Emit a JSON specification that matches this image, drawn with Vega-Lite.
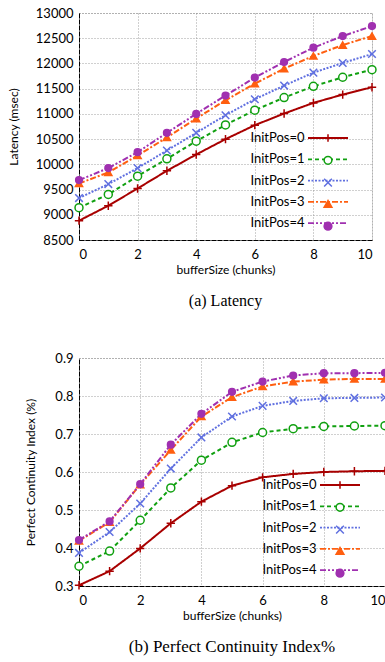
{
  "$schema": "https://vega.github.io/schema/vega-lite/v6.json",
  "padding": {"left": 6, "top": 6, "right": 0, "bottom": 0},
  "background": "white",
  "config": {
    "view": {"stroke": "#999", "strokeDash": [1, 2], "strokeWidth": 1},
    "axis": {
      "labelFont": "Lato", "labelFontSize": 13, "labelColor": "black",
      "titleFont": "Lato", "titleFontSize": 12, "titleFontWeight": "normal", "titleColor": "black",
      "domainColor": "black", "domainWidth": 1, "domainDash": [5, 1],
      "ticks": false, "labelPadding": 6,
      "grid": true, "gridColor": "#888", "gridDash": [1, 2], "gridWidth": 0.8
    },
    "legend": {"labelFont": "Lato", "labelFontSize": 13, "labelColor": "black"}
  },
  "datasets": {
    "lat": [
      {"x": 0, "s": "InitPos=0", "v": 8883}, {"x": 1, "s": "InitPos=0", "v": 9180}, {"x": 2, "s": "InitPos=0", "v": 9522}, {"x": 3, "s": "InitPos=0", "v": 9872}, {"x": 4, "s": "InitPos=0", "v": 10195}, {"x": 5, "s": "InitPos=0", "v": 10499}, {"x": 6, "s": "InitPos=0", "v": 10776}, {"x": 7, "s": "InitPos=0", "v": 11007}, {"x": 8, "s": "InitPos=0", "v": 11218}, {"x": 9, "s": "InitPos=0", "v": 11383}, {"x": 10, "s": "InitPos=0", "v": 11528},
      {"x": 0, "s": "InitPos=1", "v": 9140}, {"x": 1, "s": "InitPos=1", "v": 9404}, {"x": 2, "s": "InitPos=1", "v": 9766}, {"x": 3, "s": "InitPos=1", "v": 10109}, {"x": 4, "s": "InitPos=1", "v": 10459}, {"x": 5, "s": "InitPos=1", "v": 10782}, {"x": 6, "s": "InitPos=1", "v": 11073}, {"x": 7, "s": "InitPos=1", "v": 11323}, {"x": 8, "s": "InitPos=1", "v": 11547}, {"x": 9, "s": "InitPos=1", "v": 11726}, {"x": 10, "s": "InitPos=1", "v": 11877},
      {"x": 0, "s": "InitPos=2", "v": 9331}, {"x": 1, "s": "InitPos=2", "v": 9608}, {"x": 2, "s": "InitPos=2", "v": 9925}, {"x": 3, "s": "InitPos=2", "v": 10274}, {"x": 4, "s": "InitPos=2", "v": 10624}, {"x": 5, "s": "InitPos=2", "v": 10974}, {"x": 6, "s": "InitPos=2", "v": 11290}, {"x": 7, "s": "InitPos=2", "v": 11561}, {"x": 8, "s": "InitPos=2", "v": 11818}, {"x": 9, "s": "InitPos=2", "v": 12009}, {"x": 10, "s": "InitPos=2", "v": 12187},
      {"x": 0, "s": "InitPos=3", "v": 9621}, {"x": 1, "s": "InitPos=3", "v": 9839}, {"x": 2, "s": "InitPos=3", "v": 10175}, {"x": 3, "s": "InitPos=3", "v": 10532}, {"x": 4, "s": "InitPos=3", "v": 10908}, {"x": 5, "s": "InitPos=3", "v": 11270}, {"x": 6, "s": "InitPos=3", "v": 11600}, {"x": 7, "s": "InitPos=3", "v": 11897}, {"x": 8, "s": "InitPos=3", "v": 12148}, {"x": 9, "s": "InitPos=3", "v": 12365}, {"x": 10, "s": "InitPos=3", "v": 12543},
      {"x": 0, "s": "InitPos=4", "v": 9687}, {"x": 1, "s": "InitPos=4", "v": 9925}, {"x": 2, "s": "InitPos=4", "v": 10241}, {"x": 3, "s": "InitPos=4", "v": 10624}, {"x": 4, "s": "InitPos=4", "v": 11000}, {"x": 5, "s": "InitPos=4", "v": 11363}, {"x": 6, "s": "InitPos=4", "v": 11719}, {"x": 7, "s": "InitPos=4", "v": 12029}, {"x": 8, "s": "InitPos=4", "v": 12313}, {"x": 9, "s": "InitPos=4", "v": 12543}, {"x": 10, "s": "InitPos=4", "v": 12740}
    ],
    "pci": [
      {"x": 0, "s": "InitPos=0", "v": 0.302}, {"x": 1, "s": "InitPos=0", "v": 0.339}, {"x": 2, "s": "InitPos=0", "v": 0.399}, {"x": 3, "s": "InitPos=0", "v": 0.465}, {"x": 4, "s": "InitPos=0", "v": 0.522}, {"x": 5, "s": "InitPos=0", "v": 0.564}, {"x": 6, "s": "InitPos=0", "v": 0.586}, {"x": 7, "s": "InitPos=0", "v": 0.595}, {"x": 8, "s": "InitPos=0", "v": 0.6}, {"x": 9, "s": "InitPos=0", "v": 0.602}, {"x": 10, "s": "InitPos=0", "v": 0.603},
      {"x": 0, "s": "InitPos=1", "v": 0.352}, {"x": 1, "s": "InitPos=1", "v": 0.392}, {"x": 2, "s": "InitPos=1", "v": 0.473}, {"x": 3, "s": "InitPos=1", "v": 0.558}, {"x": 4, "s": "InitPos=1", "v": 0.631}, {"x": 5, "s": "InitPos=1", "v": 0.678}, {"x": 6, "s": "InitPos=1", "v": 0.704}, {"x": 7, "s": "InitPos=1", "v": 0.714}, {"x": 8, "s": "InitPos=1", "v": 0.72}, {"x": 9, "s": "InitPos=1", "v": 0.721}, {"x": 10, "s": "InitPos=1", "v": 0.722},
      {"x": 0, "s": "InitPos=2", "v": 0.387}, {"x": 1, "s": "InitPos=2", "v": 0.442}, {"x": 2, "s": "InitPos=2", "v": 0.517}, {"x": 3, "s": "InitPos=2", "v": 0.609}, {"x": 4, "s": "InitPos=2", "v": 0.691}, {"x": 5, "s": "InitPos=2", "v": 0.746}, {"x": 6, "s": "InitPos=2", "v": 0.774}, {"x": 7, "s": "InitPos=2", "v": 0.787}, {"x": 8, "s": "InitPos=2", "v": 0.794}, {"x": 9, "s": "InitPos=2", "v": 0.795}, {"x": 10, "s": "InitPos=2", "v": 0.796},
      {"x": 0, "s": "InitPos=3", "v": 0.419}, {"x": 1, "s": "InitPos=3", "v": 0.468}, {"x": 2, "s": "InitPos=3", "v": 0.567}, {"x": 3, "s": "InitPos=3", "v": 0.658}, {"x": 4, "s": "InitPos=3", "v": 0.746}, {"x": 5, "s": "InitPos=3", "v": 0.797}, {"x": 6, "s": "InitPos=3", "v": 0.825}, {"x": 7, "s": "InitPos=3", "v": 0.838}, {"x": 8, "s": "InitPos=3", "v": 0.843}, {"x": 9, "s": "InitPos=3", "v": 0.845}, {"x": 10, "s": "InitPos=3", "v": 0.845},
      {"x": 0, "s": "InitPos=4", "v": 0.421}, {"x": 1, "s": "InitPos=4", "v": 0.47}, {"x": 2, "s": "InitPos=4", "v": 0.568}, {"x": 3, "s": "InitPos=4", "v": 0.672}, {"x": 4, "s": "InitPos=4", "v": 0.753}, {"x": 5, "s": "InitPos=4", "v": 0.811}, {"x": 6, "s": "InitPos=4", "v": 0.838}, {"x": 7, "s": "InitPos=4", "v": 0.854}, {"x": 8, "s": "InitPos=4", "v": 0.86}, {"x": 9, "s": "InitPos=4", "v": 0.86}, {"x": 10, "s": "InitPos=4", "v": 0.861}
    ]
  },
  "columns": 1,
  "align": "none",
  "spacing": 41,
  "concat": [
    {
      "width": 293, "height": 227,
      "data": {"name": "lat"},
      "title": {"text": "(a)  Latency", "orient": "bottom", "anchor": "middle", "font": "Liberation Serif", "fontSize": 16, "fontWeight": "normal", "color": "black", "offset": 18},
      "encoding": {
        "x": {"field": "x", "type": "quantitative", "scale": {"domain": [0, 10], "nice": false}, "axis": {"values": [0, 2, 4, 6, 8, 10], "title": "bufferSize (chunks)", "labelPadding": 8, "titlePadding": 3}},
        "y": {"field": "v", "type": "quantitative", "scale": {"domain": [8500, 13000], "nice": false, "zero": false}, "axis": {"values": [8500, 9000, 9500, 10000, 10500, 11000, 11500, 12000, 12500, 13000], "format": "d", "title": "Latency (msec)", "titlePadding": 15}}
      },
      "layer": [
        {
          "mark": {"type": "line"},
          "encoding": {
            "color": {"field": "s", "type": "nominal", "scale": {"domain": ["InitPos=0", "InitPos=1", "InitPos=2", "InitPos=3", "InitPos=4"], "range": ["#a80000", "#10a010", "#6070e0", "#ff5f10", "#a030b0"]},
              "legend": {"title": null, "orient": "none", "legendX": 224, "legendY": 118.5, "padding": 0, "rowPadding": 7.3, "symbolType": "M-4,0L4,0", "symbolSize": 100, "symbolOffset": 18.5, "symbolStrokeWidth": 1.8, "labelAlign": "right", "labelOffset": -30, "zindex": 0}},
            "strokeDash": {"field": "s", "type": "nominal", "scale": {"domain": ["InitPos=0", "InitPos=1", "InitPos=2", "InitPos=3", "InitPos=4"], "range": [[1, 0], [4, 3], [2, 1.5], [6, 2, 2, 2], [6, 2, 2, 2, 2, 2]]},
              "legend": {"title": null, "orient": "none", "legendX": 224, "legendY": 118.5, "padding": 0, "rowPadding": 7.3, "symbolType": "M-4,0L4,0", "symbolSize": 100, "symbolOffset": 18.5, "symbolStrokeWidth": 1.8, "labelAlign": "right", "labelOffset": -30, "zindex": 0}},
            "strokeWidth": {"field": "s", "type": "nominal", "scale": {"domain": ["InitPos=0", "InitPos=1", "InitPos=2", "InitPos=3", "InitPos=4"], "range": [2, 2, 1.2, 1.5, 1.5]}, "legend": null}
          }
        },
        {
          "mark": {"type": "point", "filled": false, "strokeWidth": 1.5, "opacity": 1},
          "encoding": {
            "color": {"field": "s", "type": "nominal",
              "legend": {"title": null, "orient": "none", "legendX": 224, "legendY": 118.5, "padding": 0, "rowPadding": 7.3, "symbolSize": 60, "symbolOffset": 18.5, "labelExpr": "''", "symbolStrokeWidth": 1.5, "zindex": 1}},
            "shape": {"field": "s", "type": "nominal", "scale": {"domain": ["InitPos=0", "InitPos=1", "InitPos=2", "InitPos=3", "InitPos=4"], "range": ["M-1,0L1,0M0,-1L0,1", "circle", "M-1,-1L1,1M-1,1L1,-1", "triangle-up", "circle"]},
              "legend": {"title": null, "orient": "none", "legendX": 224, "legendY": 118.5, "padding": 0, "rowPadding": 7.3, "symbolSize": 60, "symbolOffset": 18.5, "labelExpr": "''", "symbolStrokeWidth": 1.5, "zindex": 1}},
            "fill": {"field": "s", "type": "nominal", "scale": {"domain": ["InitPos=0", "InitPos=1", "InitPos=2", "InitPos=3", "InitPos=4"], "range": ["transparent", "white", "transparent", "#ff5f10", "#a030b0"]},
              "legend": {"title": null, "orient": "none", "legendX": 224, "legendY": 118.5, "padding": 0, "rowPadding": 7.3, "symbolSize": 60, "symbolOffset": 18.5, "labelExpr": "''", "symbolStrokeWidth": 1.5, "zindex": 1}},
            "size": {"field": "s", "type": "nominal", "scale": {"domain": ["InitPos=0", "InitPos=1", "InitPos=2", "InitPos=3", "InitPos=4"], "range": [70, 45, 55, 40, 70]}, "legend": null}
          }
        }
      ],
      "resolve": {"legend": {"color": "independent", "strokeDash": "independent", "shape": "independent", "fill": "independent"}}
    },
    {
      "width": 306, "height": 228,
      "data": {"name": "pci"},
      "title": {"text": "(b)  Perfect Continuity Index%", "orient": "bottom", "anchor": "middle", "font": "Liberation Serif", "fontSize": 17, "fontWeight": "normal", "color": "black", "offset": 18},
      "encoding": {
        "x": {"field": "x", "type": "quantitative", "scale": {"domain": [0, 10], "nice": false}, "axis": {"values": [0, 2, 4, 6, 8, 10], "title": "bufferSize (chunks)", "labelPadding": 8, "titlePadding": 3}},
        "y": {"field": "v", "type": "quantitative", "scale": {"domain": [0.3, 0.9], "nice": false, "zero": false}, "axis": {"values": [0.3, 0.4, 0.5, 0.6, 0.7, 0.8, 0.9], "format": ".1f", "title": "Perfect Continuity Index (%)", "titlePadding": 17}}
      },
      "layer": [
        {
          "mark": {"type": "line"},
          "encoding": {
            "color": {"field": "s", "type": "nominal", "scale": {"domain": ["InitPos=0", "InitPos=1", "InitPos=2", "InitPos=3", "InitPos=4"], "range": ["#a80000", "#10a010", "#6070e0", "#ff5f10", "#a030b0"]},
              "legend": {"title": null, "orient": "none", "legendX": 236, "legendY": 120.5, "padding": 0, "rowPadding": 7.3, "symbolType": "M-4,0L4,0", "symbolSize": 100, "symbolOffset": 18.5, "symbolStrokeWidth": 1.8, "labelAlign": "right", "labelOffset": -30, "zindex": 0}},
            "strokeDash": {"field": "s", "type": "nominal", "scale": {"domain": ["InitPos=0", "InitPos=1", "InitPos=2", "InitPos=3", "InitPos=4"], "range": [[1, 0], [4, 3], [2, 1.5], [6, 2, 2, 2], [6, 2, 2, 2, 2, 2]]},
              "legend": {"title": null, "orient": "none", "legendX": 236, "legendY": 120.5, "padding": 0, "rowPadding": 7.3, "symbolType": "M-4,0L4,0", "symbolSize": 100, "symbolOffset": 18.5, "symbolStrokeWidth": 1.8, "labelAlign": "right", "labelOffset": -30, "zindex": 0}},
            "strokeWidth": {"field": "s", "type": "nominal", "scale": {"domain": ["InitPos=0", "InitPos=1", "InitPos=2", "InitPos=3", "InitPos=4"], "range": [2, 2, 1.2, 1.5, 1.5]}, "legend": null}
          }
        },
        {
          "mark": {"type": "point", "filled": false, "strokeWidth": 1.5, "opacity": 1},
          "encoding": {
            "color": {"field": "s", "type": "nominal",
              "legend": {"title": null, "orient": "none", "legendX": 236, "legendY": 120.5, "padding": 0, "rowPadding": 7.3, "symbolSize": 60, "symbolOffset": 18.5, "labelExpr": "''", "symbolStrokeWidth": 1.5, "zindex": 1}},
            "shape": {"field": "s", "type": "nominal", "scale": {"domain": ["InitPos=0", "InitPos=1", "InitPos=2", "InitPos=3", "InitPos=4"], "range": ["M-1,0L1,0M0,-1L0,1", "circle", "M-1,-1L1,1M-1,1L1,-1", "triangle-up", "circle"]},
              "legend": {"title": null, "orient": "none", "legendX": 236, "legendY": 120.5, "padding": 0, "rowPadding": 7.3, "symbolSize": 60, "symbolOffset": 18.5, "labelExpr": "''", "symbolStrokeWidth": 1.5, "zindex": 1}},
            "fill": {"field": "s", "type": "nominal", "scale": {"domain": ["InitPos=0", "InitPos=1", "InitPos=2", "InitPos=3", "InitPos=4"], "range": ["transparent", "white", "transparent", "#ff5f10", "#a030b0"]},
              "legend": {"title": null, "orient": "none", "legendX": 236, "legendY": 120.5, "padding": 0, "rowPadding": 7.3, "symbolSize": 60, "symbolOffset": 18.5, "labelExpr": "''", "symbolStrokeWidth": 1.5, "zindex": 1}},
            "size": {"field": "s", "type": "nominal", "scale": {"domain": ["InitPos=0", "InitPos=1", "InitPos=2", "InitPos=3", "InitPos=4"], "range": [70, 45, 55, 40, 70]}, "legend": null}
          }
        }
      ],
      "resolve": {"legend": {"color": "independent", "strokeDash": "independent", "shape": "independent", "fill": "independent"}}
    }
  ]
}
